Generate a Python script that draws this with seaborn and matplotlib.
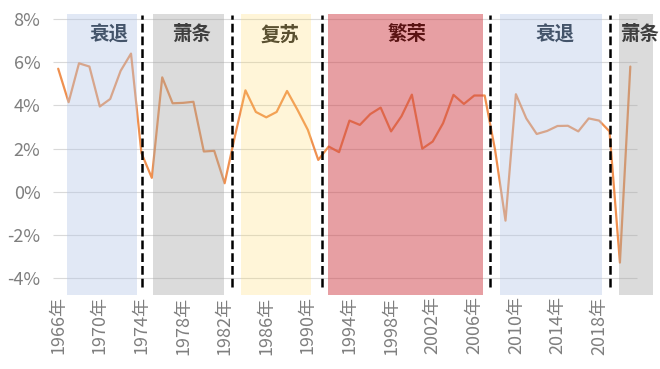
import matplotlib
matplotlib.use("Agg")
import matplotlib.pyplot as plt
import seaborn as sns
import pandas as pd

# GDP growth by year
years = list(range(1966, 2022))
growth = [5.7, 4.15, 5.95, 5.8, 3.95, 4.3, 5.6, 6.4, 1.8, 0.65,
          5.3, 4.1, 4.12, 4.17, 1.87, 1.9, 0.4, 2.6, 4.7, 3.7,
          3.45, 3.7, 4.67, 3.8, 2.87, 1.48, 2.1, 1.84, 3.3, 3.1,
          3.6, 3.9, 2.8, 3.5, 4.5, 2.0, 2.33, 3.18, 4.49, 4.07,
          4.46, 4.46, 1.94, -1.33, 4.52, 3.4, 2.68, 2.82, 3.05, 3.06,
          2.8, 3.4, 3.3, 2.8, -3.27, 5.8]

# cycle phases
phase_names = ["衰退", "萧条", "复苏", "繁荣", "衰退", "萧条"]
phase_start = [1966.85, 1975.15, 1983.55, 1991.95, 2008.45, 2019.9]
phase_end = [1973.6, 1981.95, 1990.35, 2006.85, 2018.3, 2023.2]
phase_label_x = [1970.9, 1978.8, 1987.3, 1999.5, 2013.8, 2021.9]
boundaries = [1974.1, 1982.7, 1991.4, 2007.55, 2019.0]

tick_years = list(range(1966, 2019, 4))
y_ticks = [-4, -2, 0, 2, 4, 6, 8]

phase_fill = {"衰退": ("#b4c7e7", 0.4), "萧条": ("#a6a6a6", 0.4),
              "复苏": ("#ffd966", 0.25), "繁荣": ("#d04048", 0.5)}
phase_text = {"衰退": "#44546a", "萧条": "#3f3f3f",
              "复苏": "#5a5030", "繁荣": "#5a1414"}

sns.set_theme(style="white")
plt.rcParams["font.family"] = ["Noto Sans CJK SC", "DejaVu Sans"]

df = pd.DataFrame({"year": years, "growth": growth})

fig = plt.figure(figsize=(6.6, 3.69), dpi=100)
ax = fig.add_axes([0.0803, 0.2005, 0.9094, 0.7615])

ax.hlines(y_ticks, 1965.5, 2021.6, colors="#d9d9d9", lw=0.8, zorder=0)
sns.lineplot(data=df, x="year", y="growth", color="#ed7d31", lw=1.6,
             alpha=0.85, ax=ax, zorder=1)

for name, s, e in zip(phase_names, phase_start, phase_end):
    c, a = phase_fill[name]
    ax.axvspan(s, e, color=c, alpha=a, lw=0, zorder=2)

for name, x in zip(phase_names, phase_label_x):
    ax.text(x, 7.27, name, ha="center", va="center", fontsize=14,
            fontweight="bold", color=phase_text[name], zorder=5)

ax.vlines(boundaries, -4.4, 8.2, colors="black", lw=1.8,
          linestyles=(0, (3.5, 1.6)), zorder=4)

ax.set_xlim(1965.5, 2023.2)
ax.set_ylim(-4.77, 8.23)
ax.set_yticks(y_ticks)
ax.set_yticklabels([f"{v}%" for v in y_ticks], color="#7f7f7f", fontsize=13,
                   fontweight="light")
ax.set_xticks(tick_years)
ax.set_xticklabels([f"{y}年" for y in tick_years], rotation=90,
                   color="#7f7f7f", fontsize=13, fontweight="light")
ax.tick_params(axis="y", length=0, pad=9)
ax.tick_params(axis="x", length=0, pad=1)
ax.set_xlabel("")
ax.set_ylabel("")
for sp in ax.spines.values():
    sp.set_visible(False)

fig.savefig("out.png", dpi=100)
